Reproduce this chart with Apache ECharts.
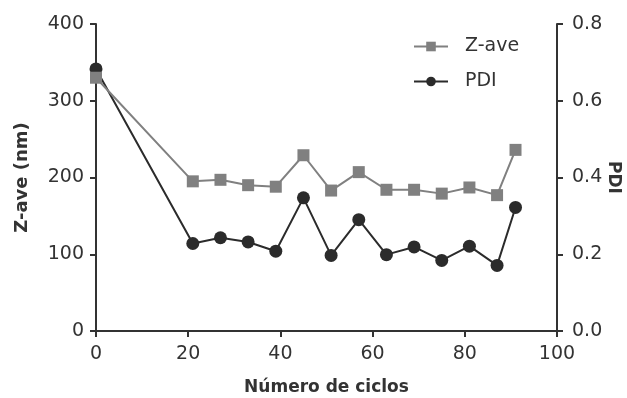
<!DOCTYPE html>
<html>
<head>
    <meta charset="utf-8">
    <title>Z-ave PDI</title>
    <script src="https://cdn.jsdelivr.net/npm/echarts@6/dist/echarts.min.js"></script>
    <style>
        html, body { margin: 0; padding: 0; background: #fff; }
        #main { width: 627px; height: 398px; }
    </style>
</head>
<body>
    <div id="main"></div>
    <script>
        // datos
        var ciclos = [0, 21, 27, 33, 39, 45, 51, 57, 63, 69, 75, 81, 87, 91];
        var zave = [330, 195, 197, 190, 188, 229, 183, 207, 184, 184, 179, 187, 177, 236];
        var pdi = [0.683, 0.228, 0.243, 0.232, 0.208, 0.347, 0.197, 0.290, 0.199, 0.219, 0.184, 0.221, 0.171, 0.322];

        function pares(xs, ys) {
            var out = [];
            for (var i = 0; i < xs.length; i++) out.push([xs[i], ys[i]]);
            return out;
        }

        var fuente = 'DejaVu Sans';
        var eje = '#333333';
        var gris = '#808080';
        var negro = '#2b2b2b';

        var myChart = echarts.init(document.getElementById('main'));
        var option = {
            animation: false,
            textStyle: { fontFamily: fuente },
            grid: { left: 96, right: 70, top: 24, bottom: 67, outerBoundsMode: 'none', containLabel: false },
            legend: {
                orient: 'vertical',
                left: 408,
                top: 32,
                itemWidth: 34,
                itemHeight: 12,
                itemGap: 16,
                textStyle: { fontFamily: fuente, fontSize: 19, color: '#333', padding: [0, 0, 0, 12] },
                data: ['Z-ave', 'PDI']
            },
            xAxis: {
                type: 'value',
                min: 0,
                max: 100,
                interval: 20,
                name: 'Número de ciclos',
                nameLocation: 'middle',
                nameGap: 48,
                nameTextStyle: { fontFamily: fuente, fontSize: 17, fontWeight: 'bold', color: '#333' },
                axisLine: { lineStyle: { color: eje, width: 2 } },
                axisTick: { show: true, length: 6, lineStyle: { color: eje, width: 2 } },
                axisLabel: { fontSize: 19, color: '#333', margin: 14 },
                splitLine: { show: false }
            },
            yAxis: [{
                type: 'value',
                position: 'left',
                min: 0,
                max: 400,
                interval: 100,
                name: 'Z-ave (nm)',
                nameLocation: 'middle',
                nameGap: 65,
                nameTextStyle: { fontFamily: fuente, fontSize: 18, fontWeight: 'bold', color: '#333' },
                axisLine: { show: true, lineStyle: { color: eje, width: 2 } },
                axisTick: { show: true, length: 6, lineStyle: { color: eje, width: 2 } },
                axisLabel: { fontSize: 19, color: '#333', margin: 12 },
                splitLine: { show: false }
            }, {
                type: 'value',
                position: 'right',
                min: 0,
                max: 0.8,
                interval: 0.2,
                name: 'PDI',
                nameLocation: 'middle',
                nameRotate: -90,
                nameGap: 48,
                nameMoveOverlap: false,
                nameTextStyle: { fontFamily: fuente, fontSize: 17, fontWeight: 'bold', color: '#333' },
                axisLine: { show: true, lineStyle: { color: eje, width: 2 } },
                axisTick: { show: true, length: 6, lineStyle: { color: eje, width: 2 } },
                axisLabel: {
                    fontSize: 19, color: '#333', margin: 15,
                    formatter: function (v) { return v.toFixed(1); }
                },
                splitLine: { show: false }
            }],
            series: [{
                name: 'PDI',
                type: 'line',
                yAxisIndex: 1,
                z: 2,
                data: pares(ciclos, pdi),
                symbol: 'circle',
                symbolSize: 13,
                showAllSymbol: true,
                itemStyle: { color: negro },
                lineStyle: { color: negro, width: 2 }
            }, {
                name: 'Z-ave',
                type: 'line',
                yAxisIndex: 0,
                z: 3,
                data: pares(ciclos, zave),
                symbol: 'rect',
                symbolSize: 12,
                showAllSymbol: true,
                itemStyle: { color: gris },
                lineStyle: { color: gris, width: 2 }
            }]
        };
        myChart.setOption(option);
    </script>
</body>
</html>
